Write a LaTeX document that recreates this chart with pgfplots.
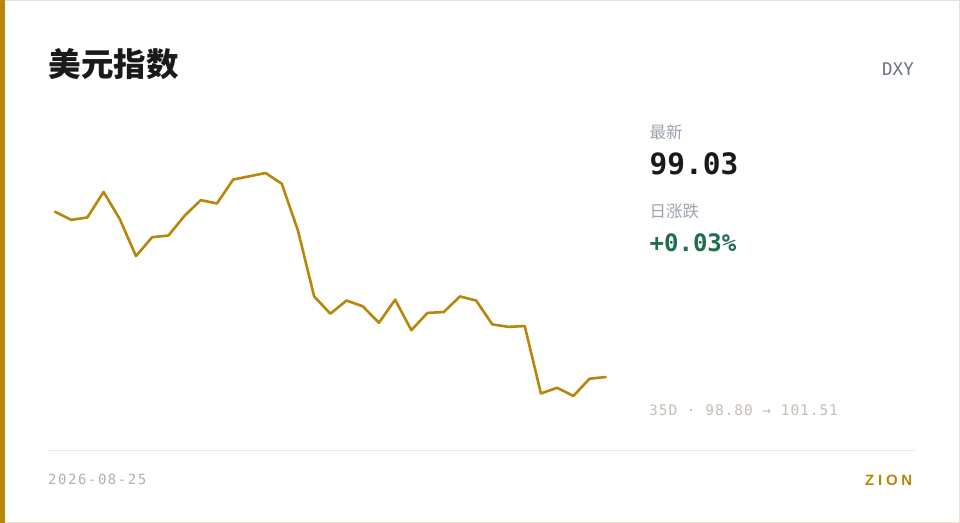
\documentclass[border=0pt]{standalone}
\usepackage{pgfplots}
\pgfplotsset{compat=1.18}
\usepackage{fontspec}
\setmainfont{Liberation Sans}
\newfontfamily\cjk{Noto Sans CJK SC}
\newfontfamily\mono{DejaVu Sans Mono}
\newfontfamily\monols{DejaVu Sans Mono}[LetterSpace=6.5]
\newfontfamily\datefont{DejaVu Sans Mono}[LetterSpace=11]
\newfontfamily\zion{Liberation Sans}[LetterSpace=25]
\definecolor{gold}{HTML}{B8860B}
\definecolor{upgreen}{HTML}{1F6E4C}
\definecolor{titleblack}{HTML}{1A1A1A}
\definecolor{labelgray}{HTML}{9CA3AF}
\definecolor{codegray}{HTML}{6B7280}
\definecolor{rangegray}{HTML}{C4BEB3}
\definecolor{dategray}{HTML}{B5B0A6}
\definecolor{sepline}{HTML}{EEEAE3}
\definecolor{cardborder}{HTML}{E6E1D3}
\pgfplotstableread{
i v
1 101.04
2 100.94
3 100.97
4 101.28
5 100.95
6 100.50
7 100.73
8 100.75
9 100.99
10 101.18
11 101.14
12 101.43
13 101.47
14 101.51
15 101.38
16 100.81
17 100.01
18 99.80
19 99.96
20 99.89
21 99.69
22 99.97
23 99.60
24 99.81
25 99.82
26 100.01
27 99.96
28 99.67
29 99.64
30 99.65
31 98.83
32 98.90
33 98.80
34 99.01
35 99.03
}\dxydata
\begin{document}
\begin{tikzpicture}[x=1bp,y=1bp]
\useasboundingbox (0,0) rectangle (960,523);
\fill[white] (0,0) rectangle (960,523);
\draw[cardborder, line width=1.2bp] (0.6,0.6) rectangle (959.4,522.4);
\fill[gold] (0,0) rectangle (5,523);
% title
\node[anchor=west, inner sep=0pt, text=titleblack] at (48.5,458.5)
  {\cjk\bfseries\fontsize{32.5bp}{38bp}\selectfont 美元指数};
\node[anchor=base east, inner sep=0pt, text=codegray] at (914,447.3)
  {\mono\fontsize{17.5bp}{20bp}\selectfont DXY};
% stats
\node[anchor=west, inner sep=0pt, text=labelgray] at (649.5,390.5)
  {\cjk\fontsize{16.5bp}{20bp}\selectfont 最新};
\node[anchor=base west, inner sep=0pt, text=titleblack] at (649.5,348.7)
  {\mono\bfseries\fontsize{29.5bp}{36bp}\selectfont 99.03};
\node[anchor=west, inner sep=0pt, text=labelgray] at (649.5,312)
  {\cjk\fontsize{16.5bp}{20bp}\selectfont 日涨跌};
\node[anchor=base west, inner sep=0pt, text=upgreen] at (649.5,271.3)
  {\mono\bfseries\fontsize{24bp}{28bp}\selectfont +0.03\%};
\node[anchor=base west, inner sep=0pt, text=rangegray] at (649,107.7)
  {\monols\fontsize{14.5bp}{18bp}\selectfont 35D · 98.80 → 101.51};
% separator and footer
\draw[sepline, line width=1bp] (48,72) -- (915,72);
\node[anchor=base west, inner sep=0pt, text=dategray] at (48,38)
  {\datefont\fontsize{14bp}{17bp}\selectfont 2026-08-25};
\node[anchor=base east, inner sep=0pt, text=gold] at (912.5,37.3)
  {\zion\bfseries\fontsize{15bp}{18bp}\selectfont ZION};
% chart
\begin{axis}[
  at={(55bp,127bp)}, anchor=south west,
  scale only axis, width=550.7bp, height=223bp,
  xmin=1, xmax=35, ymin=98.80, ymax=101.51,
  hide axis, clip=false,
]
\addplot[gold, line width=2.6bp, line join=round, line cap=round, mark=none] table[x=i, y=v] {\dxydata};
\end{axis}
\end{tikzpicture}
\end{document}
